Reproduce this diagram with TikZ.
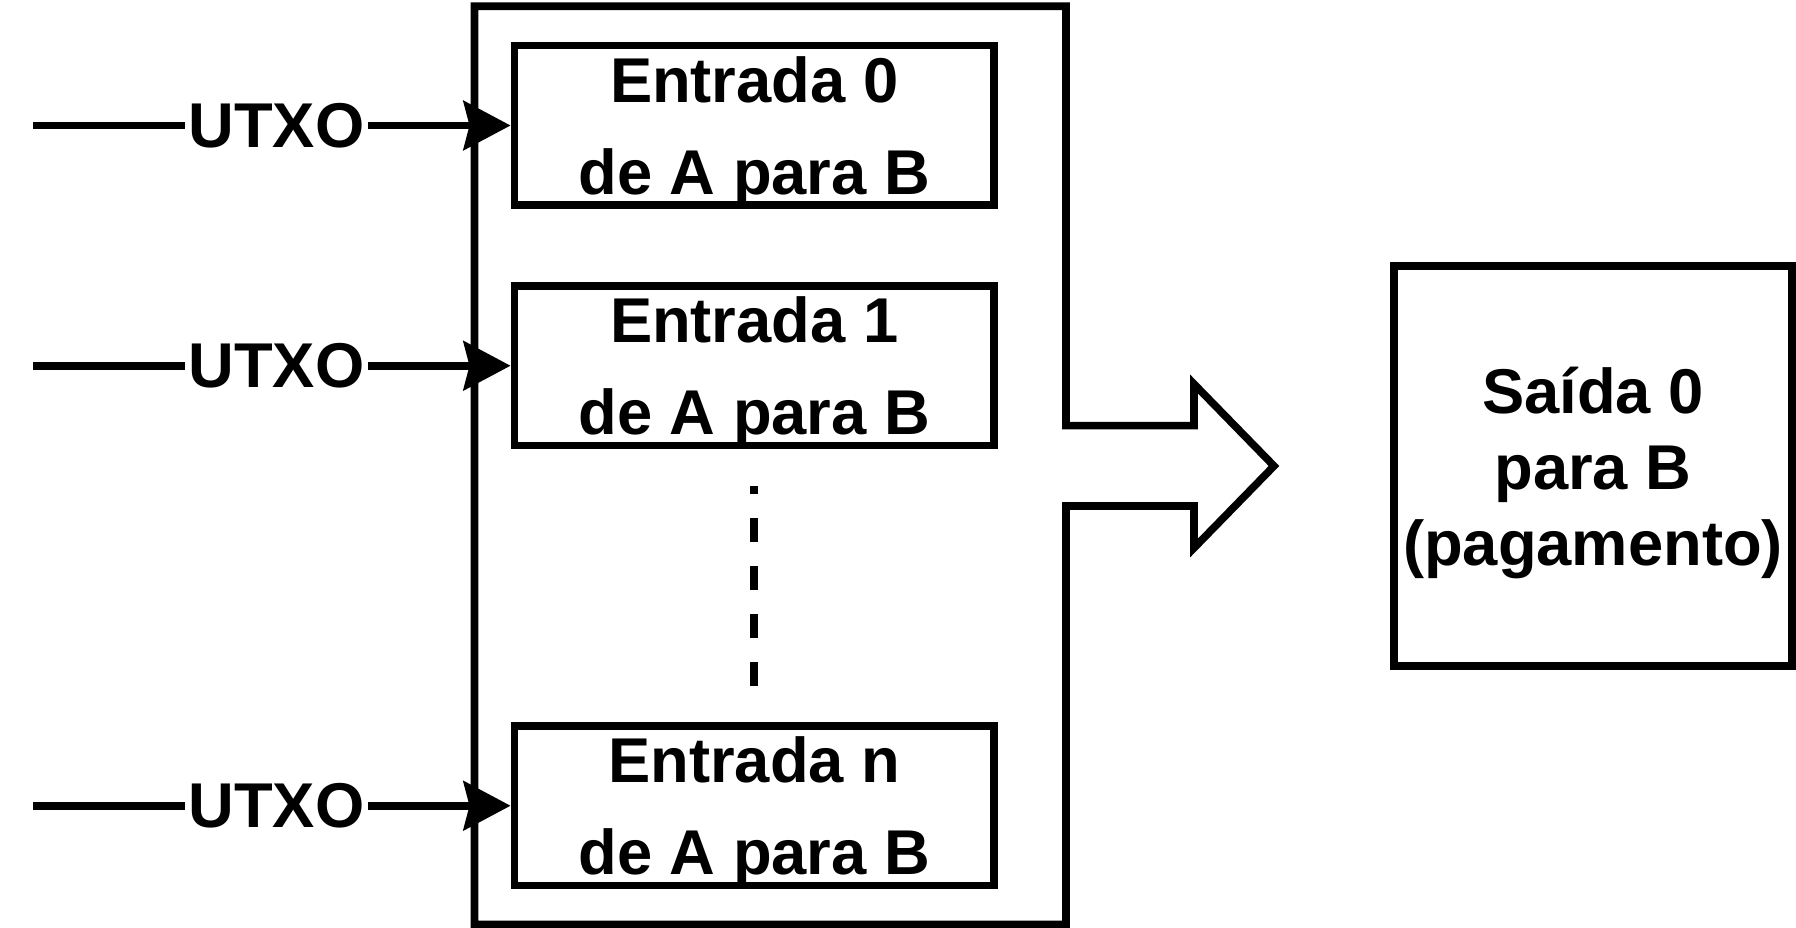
\documentclass[tikz,border=0pt]{standalone}
\usepackage{fontspec}
\setmainfont{Liberation Sans}
\usepackage{tikz}
\usetikzlibrary{arrows.meta}

\begin{document}
\begin{tikzpicture}[x=0.01cm, y=-0.01cm, line width=0.076cm,
    box/.style={draw, rectangle, align=center, text depth=0pt, inner sep=0pt},
    entry/.style={box, minimum width=4.795cm, minimum height=1.595cm,
        font=\fontsize{18}{26.1}\selectfont\bfseries},
    utxo/.style={fill=white, inner xsep=1pt, inner ysep=0pt,
        font=\fontsize{18}{20}\selectfont\bfseries},
    tip/.style={-{Stealth[length=4.7mm, width=4.9mm, inset=0.6mm]}}]
\useasboundingbox (0,0) rectangle (1796,928);

% Transaction box with the big arrow
\draw (474.5,6.3) -- (1066,6.3) -- (1066,425.7) -- (1194,425.7) -- (1194,384)
    -- (1274,466) -- (1194,548) -- (1194,506) -- (1066,506) -- (1066,924.5)
    -- (474.5,924.5) -- cycle;

% Inputs
\node[entry] (in0) at (754.25,125.5) {Entrada 0\\de A para B};
\node[entry] (in1) at (754.25,365.75) {Entrada 1\\de A para B};
\node[entry] (inn) at (754.25,805.75) {Entrada n\\de A para B};

\foreach \n in {in0,in1,inn} {
    \coordinate (src-\n) at ([xshift=-4.775cm]\n.west);
    \draw[tip] (src-\n) -- node[utxo, pos=0.51] {UTXO} (\n.west);
}

% Dots between inputs
\draw[dash pattern=on 0.24cm off 0.24cm] ([yshift=0.365cm]inn.north) -- ([yshift=-0.365cm]in1.south);

% Output
\node[box, minimum width=3.98cm, minimum height=4cm,
    font=\fontsize{18}{21.6}\selectfont\bfseries] (out0) at (1593,466)
    {Saída 0\\para B\\(pagamento)};
\end{tikzpicture}
\end{document}
